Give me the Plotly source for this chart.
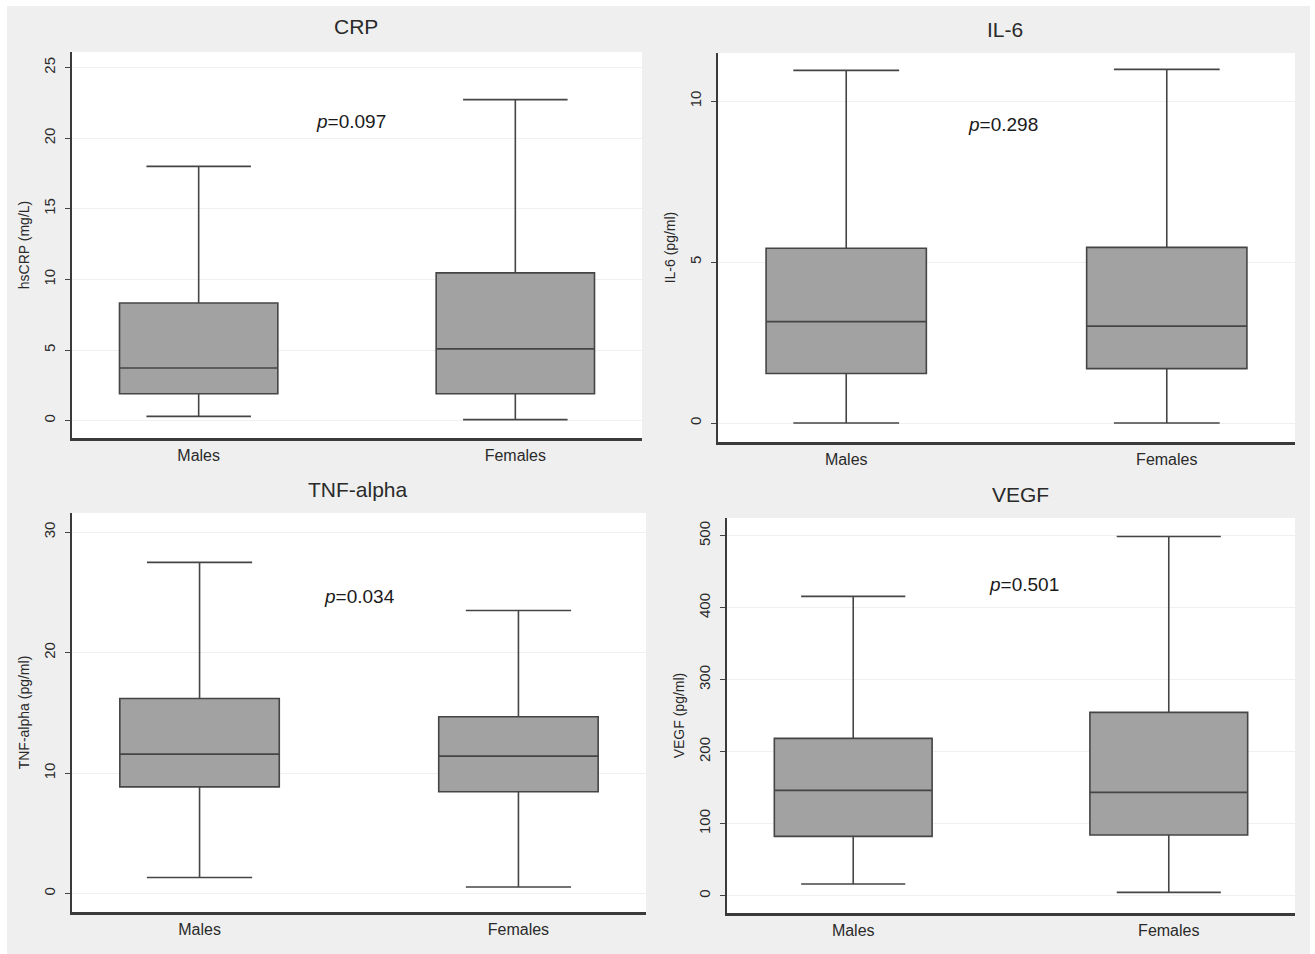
import plotly.graph_objects as go

groups = ["Males", "Females"]
group_pos = [1, 2]

panels = ["CRP", "IL-6", "TNF-alpha", "VEGF"]
ytitles = ["hsCRP (mg/L)", "IL-6 (pg/ml)", "TNF-alpha (pg/ml)", "VEGF (pg/ml)"]
pvals = ["0.097", "0.298", "0.034", "0.501"]

# box statistics [Males, Females]
crp_low = [0.3, 0.07]
crp_q1 = [1.9, 1.9]
crp_med = [3.73, 5.08]
crp_q3 = [8.33, 10.46]
crp_high = [18.0, 22.73]

il6_low = [0.0, 0.0]
il6_q1 = [1.54, 1.69]
il6_med = [3.15, 3.01]
il6_q3 = [5.43, 5.46]
il6_high = [10.96, 10.99]

tnf_low = [1.33, 0.55]
tnf_q1 = [8.86, 8.45]
tnf_med = [11.58, 11.41]
tnf_q3 = [16.2, 14.68]
tnf_high = [27.5, 23.5]

vegf_low = [16.2, 4.6]
vegf_q1 = [82.4, 84.3]
vegf_med = [146.3, 143.5]
vegf_q3 = [218.5, 254.6]
vegf_high = [415.7, 499.0]

stats = [
    (crp_low, crp_q1, crp_med, crp_q3, crp_high),
    (il6_low, il6_q1, il6_med, il6_q3, il6_high),
    (tnf_low, tnf_q1, tnf_med, tnf_q3, tnf_high),
    (vegf_low, vegf_q1, vegf_med, vegf_q3, vegf_high),
]

yticks = [[0, 5, 10, 15, 20, 25], [0, 5, 10], [0, 10, 20, 30], [0, 100, 200, 300, 400, 500]]
yranges = [[-1.23, 26.1], [-0.59, 11.5], [-1.53, 31.6], [-24, 524.6]]
ptext_pos = [(1.48, 21.2), (1.49, 9.27), (1.50, 24.7), (1.54, 432)]

W, H = 1315, 954
# plot domains in pixels: x0, x1, ytop, ybottom
dom_px = [(72, 642, 52, 438), (718, 1295, 53, 442), (72, 646, 513, 912), (727, 1295, 518, 913)]
title_px = [(356, 27), (1005, 30), (358, 490), (1020, 494)]

FONT = "Liberation Sans, Arial, sans-serif"
fig = go.Figure()
layout = dict(
    width=W, height=H,
    margin=dict(l=0, r=0, t=0, b=0),
    paper_bgcolor="white",
    plot_bgcolor="white",
    showlegend=False,
    font=dict(family=FONT, color="#333333"),
)
annotations = []
shapes = [dict(type="rect", xref="paper", yref="paper", x0=7 / W, x1=1310 / W, y0=0, y1=1 - 6 / H,
               fillcolor="#efefef", line=dict(width=0), layer="below")]

for i in range(4):
    lo, q1, med, q3, hi = stats[i]
    sfx = "" if i == 0 else str(i + 1)
    fig.add_trace(go.Box(
        x=group_pos, q1=q1, median=med, q3=q3, lowerfence=lo, upperfence=hi,
        xaxis="x" + sfx, yaxis="y" + sfx,
        width=0.5, whiskerwidth=0.66,
        fillcolor="#a2a2a2", line=dict(color="#454545", width=1.6),
        boxpoints=False, hoverinfo="skip",
    ))
    x0, x1, yt, yb = dom_px[i]
    shapes.append(dict(type="rect", xref="paper", yref="paper", x0=x0 / W, x1=x1 / W,
                       y0=1 - yb / H, y1=1 - yt / H, fillcolor="white", line=dict(width=0), layer="below"))
    layout["xaxis" + sfx] = dict(
        domain=[x0 / W, x1 / W], anchor="y" + sfx, range=[0.6, 2.4],
        tickvals=group_pos, ticktext=groups, ticks="outside", ticklen=1, tickcolor="rgba(0,0,0,0)",
        showline=True, linecolor="#3a3a3a", linewidth=2.5, showgrid=False, zeroline=False,
        tickfont=dict(size=16, color="#2a2a2a"),
    )
    layout["yaxis" + sfx] = dict(
        domain=[1 - yb / H, 1 - yt / H], anchor="x" + sfx, range=yranges[i],
        tickvals=yticks[i], ticks="outside", ticklen=5, tickcolor="#444444", tickangle=-90,
        ticklabelstandoff=4,
        showline=True, linecolor="#3a3a3a", linewidth=2, showgrid=True, gridcolor="#f0f0f0",
        gridwidth=1, zeroline=False, tickfont=dict(size=15, color="#2a2a2a"),
        title=dict(text=ytitles[i], font=dict(size=14, color="#2a2a2a"), standoff=8),
    )
    tx, ty = title_px[i]
    annotations.append(dict(text=panels[i], xref="paper", yref="paper", x=tx / W, y=1 - ty / H,
                            showarrow=False, font=dict(size=21, color="#2a2a2a"),
                            xanchor="center", yanchor="middle"))
    px_, py_ = ptext_pos[i]
    annotations.append(dict(text="<i>p</i>=" + pvals[i], xref="x" + sfx, yref="y" + sfx, x=px_, y=py_,
                            showarrow=False, font=dict(size=19, color="#1a1a1a"),
                            xanchor="center", yanchor="middle"))

layout["annotations"] = annotations
layout["shapes"] = shapes
fig.update_layout(**layout)
fig.write_html("out.html", config={"displayModeBar": False},
               post_script="document.body.style.margin='0';document.body.style.overflow='hidden';")
